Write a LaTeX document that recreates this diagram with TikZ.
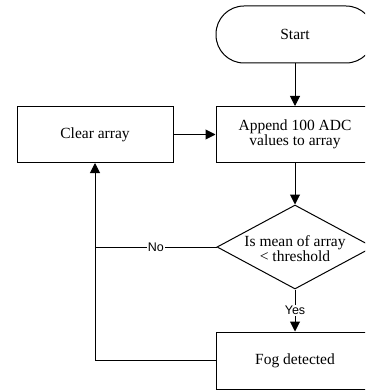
\documentclass[tikz,border=0pt]{standalone}
\usepackage{fontspec}
\setmainfont{Liberation Serif}
\newfontfamily\labelfont{Liberation Sans}
\usetikzlibrary{arrows.meta,shapes.geometric}
\begin{document}
\begin{tikzpicture}[x=1pt,y=-1pt,
  every node/.style={font=\fontsize{15.5}{15}\selectfont},
  box/.style={draw, line width=1pt, minimum width=158pt, minimum height=56pt, inner sep=0pt, align=center},
  startbox/.style={draw, line width=1pt, rounded corners=28pt, minimum width=158pt, minimum height=57pt, inner sep=0pt},
  decision/.style={draw, line width=1pt, diamond, minimum width=156pt, minimum height=84pt, inner sep=0pt},
  dtext/.style={align=center, inner sep=0pt},
  conn/.style={line width=1pt, -{Triangle[length=10pt,width=10pt]}},
  plain/.style={line width=1pt},
  lbl/.style={fill=white, inner sep=1pt, font=\labelfont\fontsize{12.5}{14}\selectfont}]
\useasboundingbox (0,0) rectangle (365,390);
\clip (0,0) rectangle (365,390);
\node[startbox] (start) at (295,34.5) {Start};
\node[box] (app) at (295,134.5) {Append 100 ADC\\values to array};
\node[box, minimum width=156pt] (clr) at (95,134.5) {Clear array};
\node[decision] (dec) at (295,247) {};
\node[dtext] (dect) at (295,249) {Is mean of array\\\textless{} threshold};
\node[box, minimum height=57pt] (fog) at (295,360.5) {Fog detected};
\coordinate (j) at (dec.west -| clr.south);
\draw[conn] (start) -- (app);
\draw[conn] (clr) -- (app);
\draw[conn] (app) -- (dec.north);
\draw[conn] (dec.south) -- node[lbl] {Yes} (fog);
\draw[plain] (dec.west) -- node[lbl] {No} (j);
\draw[conn] (fog.west) -| (clr.south);
\end{tikzpicture}
\end{document}
